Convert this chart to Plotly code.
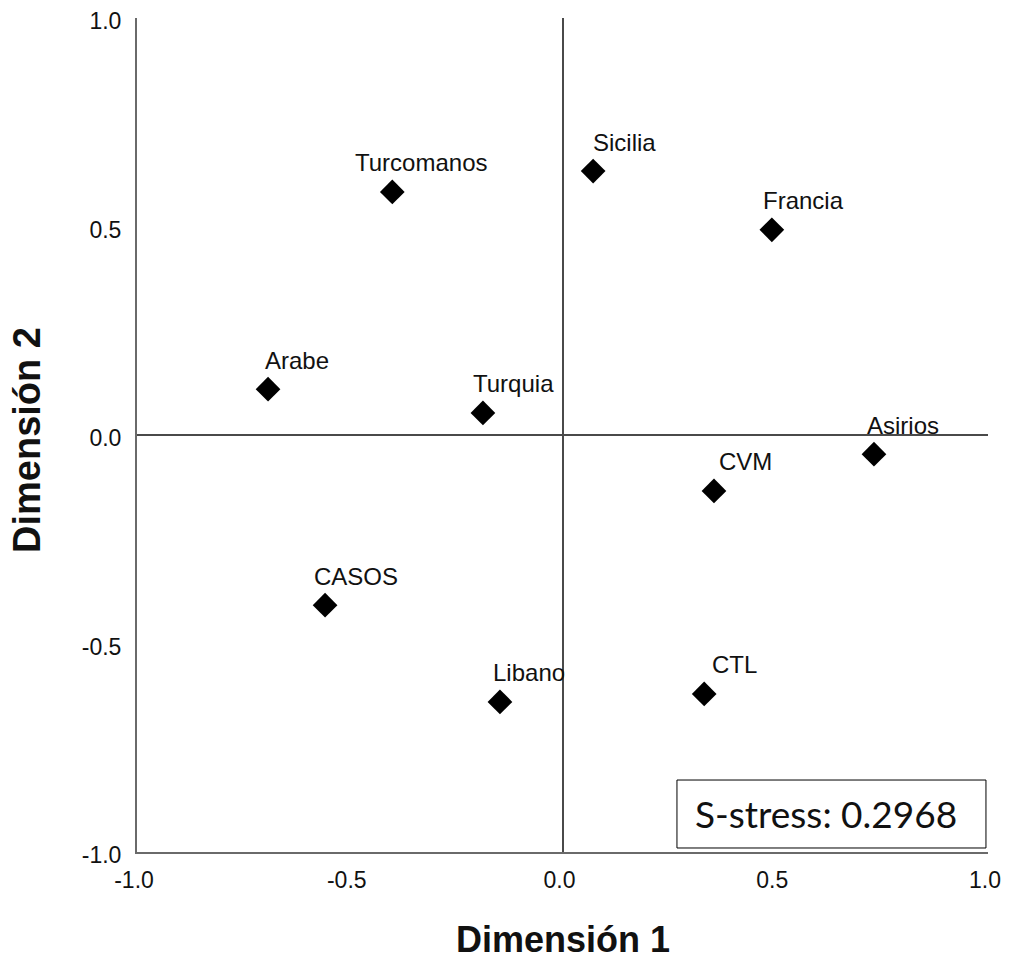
import plotly.graph_objects as go

labels = ["Turcomanos", "Sicilia", "Francia", "Arabe", "Turquia",
          "Asirios", "CVM", "CASOS", "Libano", "CTL"]
dim1 = [-0.400, 0.072, 0.492, -0.692, -0.187, 0.732, 0.356, -0.558, -0.147, 0.333]
dim2 = [0.583, 0.633, 0.492, 0.110, 0.053, -0.046, -0.134, -0.408, -0.640, -0.621]
tick_vals = [-1.0, -0.5, 0.0, 0.5, 1.0]
tick_text = ["-1.0", "-0.5", "0.0", "0.5", "1.0"]
stress_text = "S-stress: 0.2968"

# label horizontal offsets (px) relative to marker, style only
label_dx = [-39, -2, -11, -5, -12, -9, 3, -13, -9, 6]

FONT = "Liberation Sans, Arial"

fig = go.Figure()
fig.add_trace(go.Scatter(
    x=dim1, y=dim2, mode="markers",
    marker=dict(symbol="diamond", size=19, color="black"),
    hoverinfo="text", text=labels, showlegend=False,
))

for xv, yv, lab, dx in zip(dim1, dim2, labels, label_dx):
    fig.add_annotation(x=xv, y=yv, xref="x", yref="y", text=lab,
                       showarrow=False, xanchor="left", yanchor="middle",
                       xshift=dx, yshift=29,
                       font=dict(family=FONT, size=24, color="#111"))

axis_common = dict(
    range=[-1.0, 1.0], tickvals=tick_vals, ticktext=tick_text,
    showgrid=False, zeroline=True, zerolinecolor="#4a4a4a", zerolinewidth=1.5,
    showline=True, linecolor="#6a6a6a", linewidth=2, mirror=False,
    ticks="", tickfont=dict(family=FONT, size=23, color="#111"),
    ticklabeloverflow="allow", automargin=False, fixedrange=True,
)

fig.update_xaxes(**axis_common, ticklabelstandoff=6, ticklabelshift=-3)
fig.update_yaxes(**axis_common, ticklabelstandoff=9, ticklabelshift=3)

fig.add_annotation(x=0.5, y=0, xref="paper", yref="paper", yshift=-87,
                   text="<b>Dimensión 1</b>", showarrow=False,
                   xanchor="center", yanchor="middle",
                   font=dict(family=FONT, size=36, color="#111"))
fig.add_annotation(x=0, y=0.5, xref="paper", yref="paper", xshift=-110, yshift=-5,
                   text="<b>Dimensión 2</b>", showarrow=False, textangle=-90,
                   xanchor="center", yanchor="middle",
                   font=dict(family=FONT, size=38, color="#111"))

# S-stress box
fig.add_shape(type="rect", xref="paper", yref="paper",
              x0=0.6345, x1=0.9976, y0=0.0048, y1=0.0863,
              line=dict(color="black", width=1), fillcolor="white", layer="above")
fig.add_annotation(x=0.6533, y=0.0456, xref="paper", yref="paper",
                   text=stress_text, showarrow=False, xanchor="left", yanchor="middle",
                   font=dict(family="Lato, Open Sans", size=37, color="#111"))

fig.update_layout(
    width=1001, height=947,
    margin=dict(l=129, r=21, t=10, b=103),
    plot_bgcolor="white", paper_bgcolor="white",
)

fig.write_html("out.html")
